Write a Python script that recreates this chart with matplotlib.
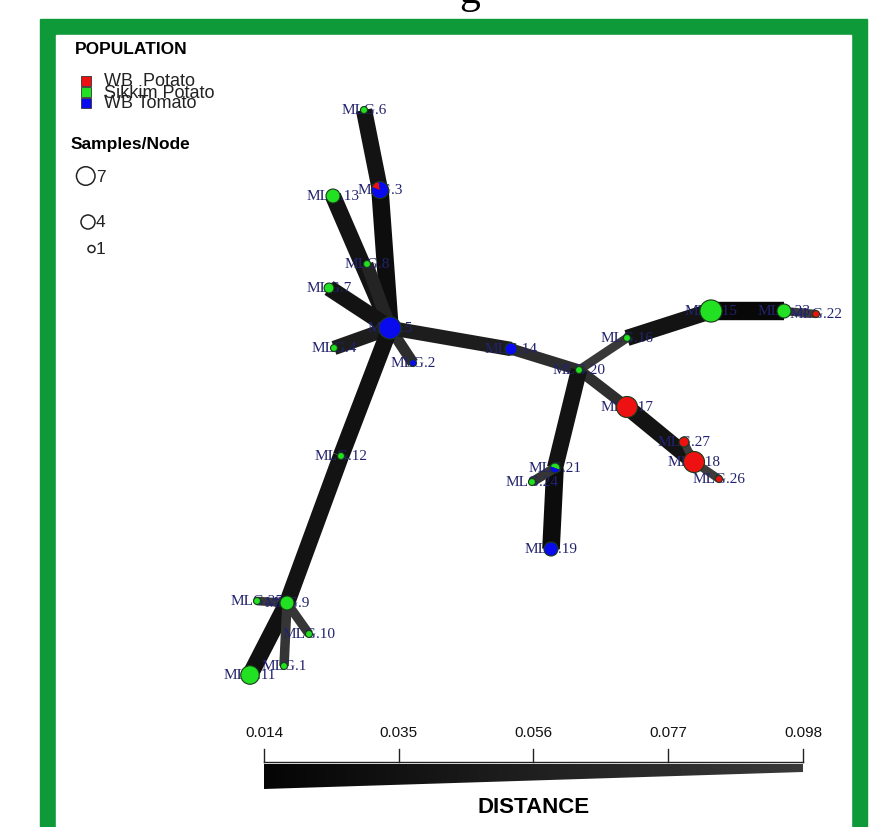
#!/usr/bin/env python3
# -*- coding: utf-8 -*-

'''
Minimum spanning network of multilocus genotypes (MLGs), coloured by population
'''
import numpy as np
import matplotlib
matplotlib.use('Agg')
import matplotlib.pyplot as plt
from matplotlib.patches import Rectangle, Circle, Wedge, Polygon
from matplotlib.colors import LinearSegmentedColormap

populations = ['WB  Potato', 'Sikkim Potato', 'WB Tomato']
pop_colors = ['#ee1111', '#22e022', '#0a0aee']

# node layout (drawing units) and samples per population [red, green, blue]
node_names = ['MLG.1', 'MLG.2', 'MLG.3', 'MLG.4', 'MLG.5', 'MLG.6', 'MLG.7',
              'MLG.8', 'MLG.9', 'MLG.10', 'MLG.11', 'MLG.12', 'MLG.13',
              'MLG.14', 'MLG.15', 'MLG.16', 'MLG.17', 'MLG.18', 'MLG.19',
              'MLG.20', 'MLG.21', 'MLG.22', 'MLG.23', 'MLG.24', 'MLG.25',
              'MLG.26', 'MLG.27']
node_x = [284, 413, 380, 334, 390, 364, 329, 367, 287, 309, 250, 341, 333,
          511, 711, 627, 627, 694, 551, 579, 555, 816, 784, 532, 257, 719, 684]
node_y = [667, 364, 191, 349, 329, 111, 289, 265, 604, 635, 676, 457, 197,
          350, 312, 339, 408, 463, 550, 371, 469, 315, 312, 483, 602, 480, 443]
node_red = [0, 0, 1, 0, 0, 0, 0, 0, 0, 0, 0, 0, 0,
            0, 0, 0, 9, 9, 0, 0, 0, 1, 0, 0, 0, 1, 2]
node_green = [1, 0, 0, 1, 0, 1, 2, 1, 4, 1, 7, 1, 4,
              0, 10, 1, 0, 0, 0, 1, 1, 0, 4, 1, 1, 0, 0]
node_blue = [0, 1, 5, 0, 10, 0, 0, 0, 0, 0, 0, 0, 0,
             3, 0, 0, 0, 0, 4, 0, 1, 0, 0, 0, 0, 0, 0]

# network edges and their genetic distance
edge_from = ['MLG.6', 'MLG.3', 'MLG.13', 'MLG.8', 'MLG.7', 'MLG.4', 'MLG.2',
             'MLG.5', 'MLG.14', 'MLG.20', 'MLG.16', 'MLG.15', 'MLG.23',
             'MLG.20', 'MLG.17', 'MLG.18', 'MLG.18', 'MLG.20', 'MLG.21',
             'MLG.21', 'MLG.5', 'MLG.12', 'MLG.9', 'MLG.9', 'MLG.9', 'MLG.9']
edge_to = ['MLG.3', 'MLG.5', 'MLG.5', 'MLG.5', 'MLG.5', 'MLG.5', 'MLG.5',
           'MLG.14', 'MLG.20', 'MLG.16', 'MLG.15', 'MLG.23', 'MLG.22',
           'MLG.17', 'MLG.18', 'MLG.27', 'MLG.26', 'MLG.21', 'MLG.19',
           'MLG.24', 'MLG.12', 'MLG.9', 'MLG.25', 'MLG.11', 'MLG.1', 'MLG.10']
edge_dist = [0.032, 0.024, 0.032, 0.055, 0.032, 0.045, 0.066,
             0.045, 0.066, 0.082, 0.032, 0.018, 0.085,
             0.068, 0.032, 0.088, 0.086, 0.032, 0.023,
             0.077, 0.030, 0.032, 0.083, 0.030, 0.077, 0.079]

scale_ticks = [0.014, 0.035, 0.056, 0.077, 0.098]
legend_sizes = [7, 4, 1]

D_MIN, D_MAX = 0.014, 0.098
BAR_X0, BAR_X1 = 264, 803


def node_radius(n):
    return 3.5 * np.sqrt(n)


def edge_width(d):
    # pixels -> points at dpi 100
    return (19 - (d - D_MIN) * 150) * 0.72


def edge_gray(d):
    t = (d - D_MIN) / (D_MAX - D_MIN)
    g = 0.02 + t * 0.25
    return (g, g, g)


def dist_to_x(d):
    return BAR_X0 + (d - D_MIN) / (D_MAX - D_MIN) * (BAR_X1 - BAR_X0)


def draw_frame(ax):
    ax.add_patch(Rectangle((40, 20), 827, 830, color='#0f9a3a', zorder=0))
    ax.add_patch(Rectangle((56, 36), 795, 820, color='white', zorder=0))
    ax.text(470, 3, 'g', family='Liberation Serif', fontsize=30,
            ha='center', va='baseline', color='black', zorder=1)
# end of draw_frame()


def draw_network(ax):
    pos = {n: (x, y) for n, x, y in zip(node_names, node_x, node_y)}
    for a, b, d in zip(edge_from, edge_to, edge_dist):
        (x0, y0), (x1, y1) = pos[a], pos[b]
        ax.plot([x0, x1], [y0, y1], color=edge_gray(d), lw=edge_width(d),
                solid_capstyle='butt', zorder=2)

    for name, x, y in zip(node_names, node_x, node_y):
        ax.text(x, y, name, family='Liberation Serif', fontsize=11,
                color='#22226e', ha='center', va='center', zorder=3)

    for i, name in enumerate(node_names):
        counts = [node_red[i], node_green[i], node_blue[i]]
        total = sum(counts)
        r = node_radius(total)
        c = (node_x[i], node_y[i])
        # slices start at the upper left and run round the node
        start = 200.0
        for k, cnt in enumerate(counts):
            if cnt == 0:
                continue
            span = 360.0 * cnt / total
            ax.add_patch(Wedge(c, r, start, start + span,
                               facecolor=pop_colors[k], edgecolor='none',
                               zorder=4))
            start += span
        ax.add_patch(Circle(c, r, facecolor='none', edgecolor='#1a3a1a',
                            lw=0.8, zorder=5))
# end of draw_network()


def draw_legend(ax):
    ax.text(75, 50, 'POPULATION', family='Liberation Sans', fontweight='bold',
            fontsize=12.5, ha='left', va='center')
    for k, (lab, col) in enumerate(zip(populations, pop_colors)):
        y = 82 + k * 11
        ax.add_patch(Rectangle((81, y - 5), 10, 10, facecolor=col,
                               edgecolor='#333333', lw=0.6, zorder=3))
        ax.text(104, y, lab, family='Liberation Sans', fontsize=13,
                ha='left', va='center', color='#222222', zorder=4)

    ax.text(71, 144, 'Samples/Node', family='Liberation Sans',
            fontweight='bold', fontsize=12.5, ha='left', va='center')
    for n, y in zip(legend_sizes, [177, 223, 250]):
        r = node_radius(n)
        cx = 95 - r
        ax.add_patch(Circle((cx, y), r, facecolor='none',
                            edgecolor='#222222', lw=1.1))
        ax.text(cx + r + 1, y, str(n), family='Liberation Sans',
                fontsize=12.5, ha='left', va='center', color='#222222')
# end of draw_legend()


def draw_distance_scale(ax):
    ax.plot([BAR_X0, BAR_X1], [763, 763], color='#222222', lw=1.0)
    for v in scale_ticks:
        x = dist_to_x(v)
        ax.plot([x, x], [750, 763], color='#222222', lw=1.0)
        ax.text(x, 733, '{0:.3f}'.format(v), family='Liberation Sans',
                fontsize=11, ha='center', va='center', color='#111111')

    cmap = LinearSegmentedColormap.from_list('dist', ['#050505', '#3a3a3a'])
    grad = np.linspace(0, 1, 256).reshape(1, -1)
    im = ax.imshow(grad, cmap=cmap, aspect='auto',
                   extent=(BAR_X0, BAR_X1, 790, 765), zorder=2)
    wedge = Polygon([(BAR_X0, 765), (BAR_X1, 765), (BAR_X1, 773),
                     (BAR_X0, 790)], closed=True, facecolor='none',
                    edgecolor='none', transform=ax.transData)
    ax.add_patch(wedge)
    im.set_clip_path(wedge)

    ax.text((BAR_X0 + BAR_X1) / 2, 808, 'DISTANCE', family='Liberation Sans',
            fontweight='bold', fontsize=16, ha='center', va='center')
# end of draw_distance_scale()


if __name__ == '__main__':
    fig = plt.figure(figsize=(8.86, 8.28), dpi=100)
    ax = fig.add_axes([0, 0, 1, 1])
    draw_frame(ax)
    draw_network(ax)
    draw_legend(ax)
    draw_distance_scale(ax)
    ax.set_xlim(0, 886)
    ax.set_ylim(828, 0)
    ax.set_aspect('auto')
    ax.axis('off')
    fig.savefig('out.png', dpi=100)
